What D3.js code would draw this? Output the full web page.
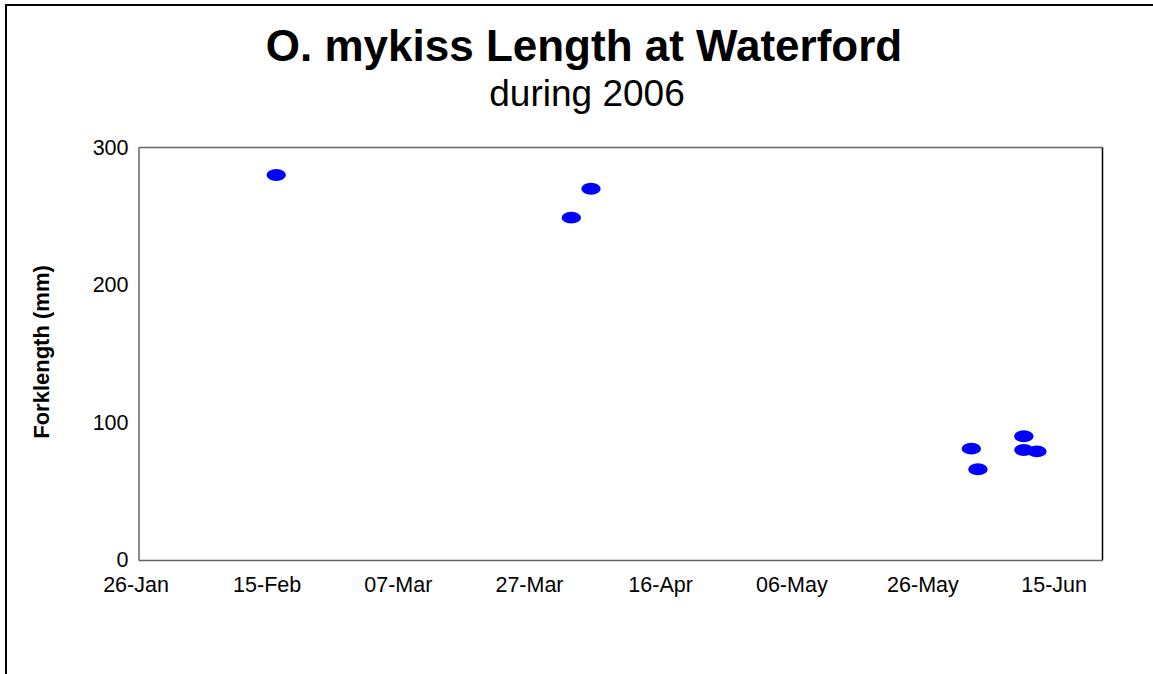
<!DOCTYPE html>
<html>
<head>
<meta charset="utf-8">
<script src="https://cdn.jsdelivr.net/npm/d3@7"></script>
<style>
  html, body { margin: 0; padding: 0; background: #fff; }
  svg { display: block; font-family: "Liberation Sans", Arial, sans-serif; }
</style>
</head>
<body>
<svg id="chart" width="1153" height="674"></svg>
<script>
// ---- data ----
const sampleDates = ["2006-02-16", "2006-04-02", "2006-04-05", "2006-06-02", "2006-06-03", "2006-06-10", "2006-06-10", "2006-06-12"];
const forkLengths = [280, 249, 270, 81, 66, 90, 80, 79];
const xTickDates = ["2006-01-26", "2006-02-15", "2006-03-07", "2006-03-27", "2006-04-16", "2006-05-06", "2006-05-26", "2006-06-15"];
const xTickLabels = ["26-Jan", "15-Feb", "07-Mar", "27-Mar", "16-Apr", "06-May", "26-May", "15-Jun"];
const yTicks = [0, 100, 200, 300];
const xDomain = ["2006-01-26", "2006-06-22"];
const yDomain = [0, 300];

const parse = d3.utcParse("%Y-%m-%d");
const svg = d3.select("#chart");

// outer frame (extends past right and bottom edges)
svg.append("path")
  .attr("d", "M6,680V5H1160")
  .attr("fill", "none").attr("stroke", "#000").attr("stroke-width", 2);

const L = 138.5, R = 1102.5, T = 147.5, B = 560;
const x = d3.scaleUtc().domain(xDomain.map(parse)).range([L, R]);
const y = d3.scaleLinear().domain(yDomain).range([B, T]);

// titles
svg.append("text").attr("x", 584).attr("y", 61).attr("text-anchor", "middle")
  .attr("font-size", 44).attr("font-weight", "bold").text("O. mykiss Length at Waterford");
svg.append("text").attr("x", 587).attr("y", 106).attr("text-anchor", "middle")
  .attr("font-size", 37).text("during 2006");

// plot frame
svg.append("line").attr("x1", L).attr("x2", R).attr("y1", T).attr("y2", T).attr("stroke", "#666").attr("stroke-width", 1.5);
svg.append("line").attr("x1", R).attr("x2", R).attr("y1", T).attr("y2", B).attr("stroke", "#000").attr("stroke-width", 1.5);

// x axis
const xAxis = d3.axisBottom(x)
  .tickValues(xTickDates.map(parse))
  .tickFormat((d, i) => xTickLabels[i])
  .tickSize(0).tickPadding(17);
const gx = svg.append("g").attr("transform", `translate(0,${B})`).call(xAxis);
gx.select(".domain").attr("stroke", "#666").attr("stroke-width", 1.5);
gx.selectAll("text").attr("font-size", 21.5).attr("fill", "#000").attr("dx", -3)
  .attr("font-family", "Liberation Sans, Arial, sans-serif");

// y axis
const yAxis = d3.axisLeft(y).tickValues(yTicks).tickSize(0).tickPadding(10);
const gy = svg.append("g").attr("transform", `translate(${L},0)`).call(yAxis);
gy.select(".domain").attr("stroke", "#666").attr("stroke-width", 1.5);
gy.selectAll("text").attr("font-size", 21.5).attr("fill", "#000")
  .attr("font-family", "Liberation Sans, Arial, sans-serif");

// y axis title
svg.append("text").attr("transform", "translate(49,352) rotate(-90)")
  .attr("text-anchor", "middle").attr("font-size", 22).attr("font-weight", "bold")
  .text("Forklength (mm)");

// points
svg.append("g").selectAll("ellipse")
  .data(sampleDates.map((d, i) => ({ date: parse(d), v: forkLengths[i] })))
  .join("ellipse")
  .attr("cx", d => x(d.date)).attr("cy", d => y(d.v))
  .attr("rx", 9.7).attr("ry", 5.9)
  .attr("fill", "#0000ff");
</script>
</body>
</html>
